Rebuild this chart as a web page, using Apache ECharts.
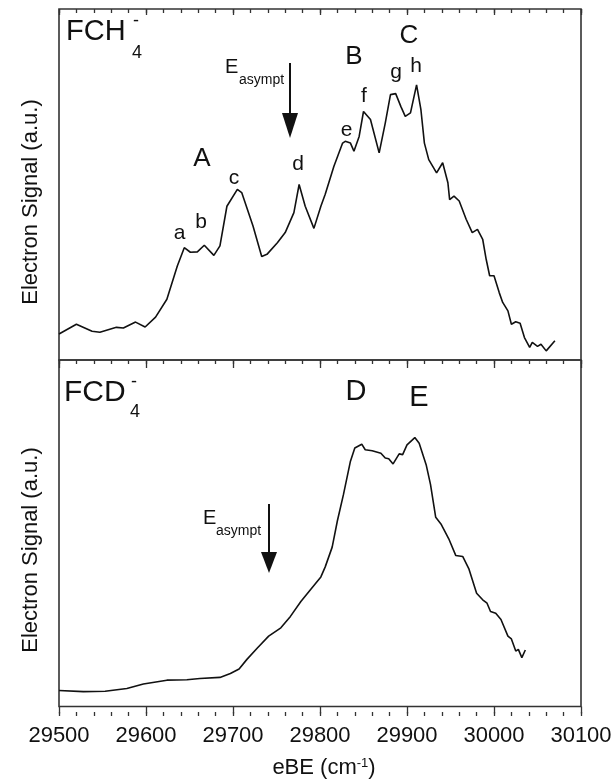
<!DOCTYPE html>
<html>
<head>
<meta charset="utf-8">
<script src="https://cdn.jsdelivr.net/npm/echarts@6/dist/echarts.min.js"></script>
<style>
  html, body { margin: 0; padding: 0; background: #fff; }
  #chart { width: 615px; height: 780px; }
</style>
</head>
<body>
<div id="chart"></div>
<script>
// x-axis ticks
var xTicks = [29500, 29600, 29700, 29800, 29900, 30000, 30100];
var xMinorStep = 20;

// FCH4- spectrum (eBE in cm-1, signal in a.u.)
var topX = [29500,29520,29538,29547,29566,29574,29588,29599,29611,29624,29636,29644,29651,29659,29667,29678,29685,29693,29705,29710,29723,29733,29739,29751,29760,29770,29776,29783,29793,29801,29806,29816,29826,29829,29835,29839,29845,29850,29858,29868,29875,29881,29887,29893,29898,29904,29911,29916,29920,29925,29934,29941,29947,29949,29954,29960,29968,29975,29981,29987,29991,29995,30000,30006,30010,30016,30020,30025,30030,30035,30041,30044,30050,30054,30060,30070];
var topY = [7.4,10.2,8.2,7.9,9.3,9.1,10.8,9.4,12.2,17.3,26.8,32.0,30.7,30.8,32.7,29.8,32.5,43.8,48.6,47.7,38.2,29.5,30.1,33.4,36.3,42.0,50.0,43.8,37.5,43.8,47.2,55.2,61.8,62.3,61.8,59.5,63.7,70.8,68.5,59.0,67.5,75.6,75.9,72.2,69.4,70.4,78.4,71.3,61.8,57.1,53.3,56.2,50.5,45.7,46.7,45.3,40.1,36.3,37.2,34.4,28.7,24.0,24.0,19.2,16.4,14.0,10.2,10.9,10.5,6.4,3.6,5.0,3.9,4.5,2.6,5.5];

// FCD4- spectrum
var botX = [29500,29528,29553,29578,29597,29624,29647,29662,29685,29697,29707,29716,29728,29741,29755,29766,29778,29789,29801,29806,29814,29820,29827,29835,29840,29848,29852,29860,29870,29875,29879,29884,29891,29895,29900,29909,29914,29922,29927,29933,29939,29948,29956,29964,29971,29980,29987,29992,29996,30002,30008,30016,30020,30025,30028,30032,30036];
var botY = [4.6,4.3,4.4,5.2,6.5,7.6,7.7,8.1,8.4,9.5,10.8,13.6,16.9,20.3,22.7,26.0,30.3,33.7,37.4,40.3,46.0,53.6,61.2,70.8,74.6,75.7,74.1,73.8,73.1,71.7,71.5,70.0,72.9,72.7,75.5,77.6,76.0,69.8,64.1,54.6,52.7,48.4,43.6,43.3,39.8,32.7,30.8,29.8,27.4,26.9,25.1,20.3,19.5,16.0,16.5,14.1,16.3];

function zip(xs, ys) { return xs.map(function (x, i) { return [x, ys[i]]; }); }

var FONT = '"Liberation Sans", Arial, Helvetica, sans-serif';
var INK = '#111';
var FRAME = '#333';
var xMin = xTicks[0], xMax = xTicks[xTicks.length - 1], xStep = xTicks[1] - xTicks[0];

function xAxisBase(grid, pos, step, inside, len) {
  return {
    type: 'value', gridIndex: grid, position: pos,
    min: xMin, max: xMax, interval: step,
    axisLine: { show: false, onZero: false },
    axisTick: { show: true, inside: inside, length: len, lineStyle: { color: FRAME, width: 1.3 } },
    axisLabel: { show: false },
    splitLine: { show: false }
  };
}
var bottomAxis = xAxisBase(1, 'bottom', xStep, false, 7);
bottomAxis.axisLabel = { show: true, fontSize: 22, color: INK, fontFamily: FONT, margin: 18,
  formatter: function (v) { return String(v); } };
bottomAxis.name = 'eBE (cm{sup|-1})';
bottomAxis.nameLocation = 'middle';
bottomAxis.nameGap = 50;
bottomAxis.nameTextStyle = {
  fontSize: 22, color: INK, fontFamily: FONT, padding: [0, 0, 0, 8],
  rich: { sup: { fontSize: 13, color: INK, fontFamily: FONT, verticalAlign: 'top', padding: [0, 0, 10, 0] } }
};

function yAxisBase(grid) {
  return {
    type: 'value', gridIndex: grid, min: 0, max: 100,
    axisLine: { show: false, onZero: false }, axisTick: { show: false },
    axisLabel: { show: false }, splitLine: { show: false }
  };
}

function txt(x, y, s, size, align) {
  return { type: 'text', x: x, y: y, silent: true,
    style: { text: s, fontSize: size, fontFamily: FONT, fill: INK,
      textAlign: align || 'center', textVerticalAlign: 'middle' } };
}
function arrow(x, y0, y1, headTop) {
  return [
    { type: 'line', silent: true, shape: { x1: x, y1: y0, x2: x, y2: headTop + 2 }, style: { stroke: INK, lineWidth: 2 } },
    { type: 'polygon', silent: true, shape: { points: [[x - 8, headTop], [x + 8, headTop], [x, y1]] }, style: { fill: INK } }
  ];
}

var graphics = [
  // y-axis titles
  { type: 'text', x: 31, y: 202, rotation: Math.PI / 2, silent: true,
    style: { text: 'Electron Signal (a.u.)', fontSize: 22, fontFamily: FONT, fill: INK, textAlign: 'center', textVerticalAlign: 'middle' } },
  { type: 'text', x: 31, y: 550, rotation: Math.PI / 2, silent: true,
    style: { text: 'Electron Signal (a.u.)', fontSize: 22, fontFamily: FONT, fill: INK, textAlign: 'center', textVerticalAlign: 'middle' } },
  // species labels
  txt(66, 32, 'FCH', 29, 'left'), txt(137, 53, '4', 18), txt(136, 21, '-', 18),
  txt(64, 393, 'FCD', 30, 'left'), txt(135, 412, '4', 18), txt(134, 382, '-', 18),
  // E_asympt labels
  txt(225, 67, 'E', 20, 'left'), txt(239, 80, 'asympt', 14, 'left'),
  txt(203, 518, 'E', 20, 'left'), txt(216, 531, 'asympt', 14, 'left'),
  // band labels
  txt(202, 159, 'A', 26), txt(354, 57, 'B', 26), txt(409, 36, 'C', 26),
  txt(356, 392, 'D', 29), txt(419, 398, 'E', 29),
  // peak letters
  txt(179.5, 233, 'a', 21), txt(201, 222, 'b', 21), txt(234, 178.5, 'c', 21),
  txt(298, 164.5, 'd', 21), txt(346.7, 130, 'e', 21), txt(364, 96.5, 'f', 21),
  txt(396, 72.5, 'g', 21), txt(416, 66.5, 'h', 21)
].concat(arrow(290, 63, 138, 113)).concat(arrow(269, 504, 573, 552));

var P1 = { left: 59, top: 9, width: 522, height: 351 };
var P2 = { left: 59, top: 360, width: 522, height: 352 };
function gridOf(p, show) {
  return { left: p.left, top: p.top, width: p.width, height: p.height, show: show,
    borderColor: FRAME, borderWidth: 1.6, backgroundColor: 'transparent' };
}

var chart = echarts.init(document.getElementById('chart'), null, { renderer: 'canvas' });
chart.setOption({
  backgroundColor: '#fff',
  animation: false,
  grid: [gridOf(P1, true), gridOf(P2, true), gridOf(P1, false), gridOf(P2, false)],
  xAxis: [
    xAxisBase(0, 'top', xStep, true, 6),            // 0: panel 1 top, major
    bottomAxis,                                      // 1: panel 2 bottom, major + labels
    xAxisBase(1, 'top', xStep, true, 8),            // 2: panel 2 top, major
    xAxisBase(2, 'top', xMinorStep, true, 4),       // 3: panel 1 top, minor
    xAxisBase(3, 'top', xMinorStep, true, 4),       // 4: panel 2 top, minor
    xAxisBase(3, 'bottom', xMinorStep, false, 4)    // 5: panel 2 bottom, minor
  ],
  yAxis: [yAxisBase(0), yAxisBase(1), yAxisBase(2), yAxisBase(3)],
  series: [
    { type: 'line', xAxisIndex: 0, yAxisIndex: 0, data: zip(topX, topY), showSymbol: false, symbol: 'none',
      lineStyle: { color: INK, width: 1.6 } },
    { type: 'line', xAxisIndex: 1, yAxisIndex: 1, data: zip(botX, botY), showSymbol: false, symbol: 'none',
      lineStyle: { color: INK, width: 1.6 } }
  ],
  graphic: graphics
});
</script>
</body>
</html>
